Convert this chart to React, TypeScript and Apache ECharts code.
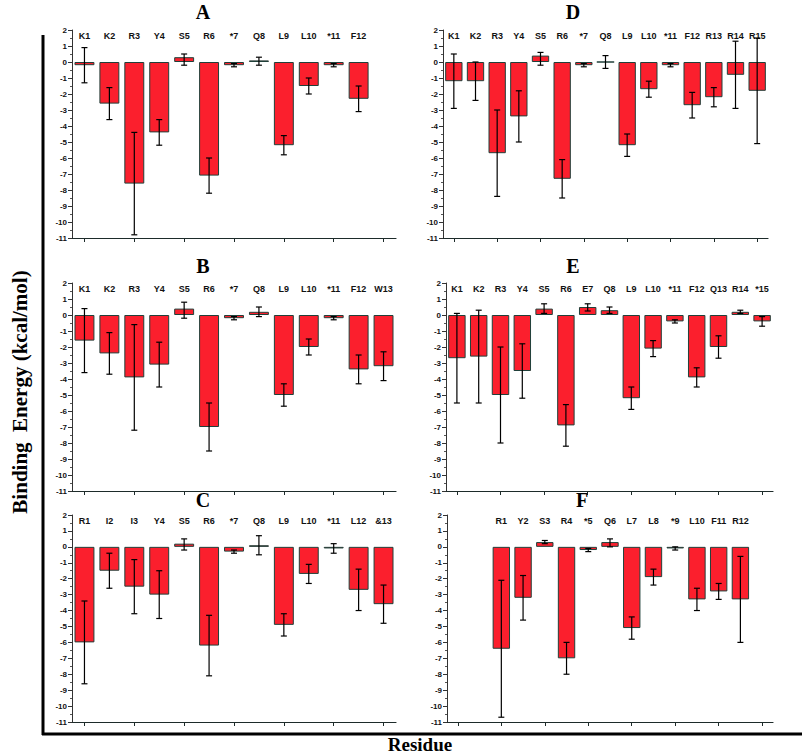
import React, { useEffect, useRef } from "react";
import * as echarts from "echarts";

// ---------- DATA ----------
const labelsA = ["K1", "K2", "R3", "Y4", "S5", "R6", "*7", "Q8", "L9", "L10", "*11", "F12", ""];
const valuesA = [-0.2, -2.6, -7.6, -4.4, 0.3, -7.1, -0.2, 0.1, -5.2, -1.5, -0.2, -2.3, null];
const lowA = [-1.3, -3.6, -10.8, -5.2, -0.2, -8.2, -0.3, -0.2, -5.8, -2.0, -0.3, -3.1, null];
const highA = [0.9, -1.6, -4.4, -3.6, 0.5, -6.0, -0.1, 0.3, -4.6, -1.0, -0.1, -1.5, null];

const labelsB = ["K1", "K2", "R3", "Y4", "S5", "R6", "*7", "Q8", "L9", "L10", "*11", "F12", "W13"];
const valuesB = [-1.6, -2.4, -3.9, -3.1, 0.4, -7.0, -0.2, 0.2, -5.0, -2.0, -0.2, -3.4, -3.2];
const lowB = [-3.6, -3.7, -7.2, -4.5, -0.2, -8.5, -0.3, -0.1, -5.7, -2.5, -0.3, -4.3, -4.1];
const highB = [0.4, -1.1, -0.6, -1.7, 0.8, -5.5, -0.1, 0.5, -4.3, -1.5, -0.1, -2.5, -2.3];

const labelsC = ["R1", "I2", "I3", "Y4", "S5", "R6", "*7", "Q8", "L9", "L10", "*11", "L12", "&13"];
const valuesC = [-6.0, -1.5, -2.5, -3.0, 0.2, -6.2, -0.3, 0.1, -4.9, -1.7, -0.1, -2.7, -3.6];
const lowC = [-8.6, -2.6, -4.2, -4.5, -0.2, -8.1, -0.4, -0.5, -5.6, -2.3, -0.4, -4.0, -4.8];
const highC = [-3.4, -0.4, -0.8, -1.5, 0.5, -4.3, -0.2, 0.7, -4.2, -1.1, 0.2, -1.4, -2.4];

const labelsD = ["K1", "K2", "R3", "Y4", "S5", "R6", "*7", "Q8", "L9", "L10", "*11", "F12", "R13", "R14", "R15"];
const valuesD = [-1.2, -1.2, -5.7, -3.4, 0.4, -7.3, -0.2, 0.0, -5.2, -1.7, -0.2, -2.7, -2.2, -0.8, -1.8];
const lowD = [-2.9, -2.4, -8.4, -5.0, -0.2, -8.5, -0.3, -0.4, -5.9, -2.2, -0.3, -3.5, -2.8, -2.9, -5.1];
const highD = [0.5, 0.0, -3.0, -1.8, 0.6, -6.1, -0.1, 0.4, -4.5, -1.2, -0.1, -1.9, -1.6, 1.3, 1.5];

const labelsE = ["K1", "K2", "R3", "Y4", "S5", "R6", "E7", "Q8", "L9", "L10", "*11", "F12", "Q13", "R14", "*15"];
const valuesE = [-2.7, -2.6, -5.0, -3.5, 0.4, -6.9, 0.5, 0.3, -5.2, -2.1, -0.4, -3.9, -2.0, 0.2, -0.4];
const lowE = [-5.5, -5.5, -8.0, -5.2, 0.1, -8.2, 0.25, 0.1, -5.9, -2.6, -0.5, -4.5, -2.7, 0.1, -0.7];
const highE = [0.1, 0.3, -2.0, -1.8, 0.7, -5.6, 0.7, 0.5, -4.5, -1.6, -0.3, -3.3, -1.3, 0.3, -0.1];

const labelsF = ["", "", "R1", "Y2", "S3", "R4", "*5", "Q6", "L7", "L8", "*9", "L10", "F11", "R12", ""];
const valuesF = [null, null, -6.4, -3.2, 0.3, -7.0, -0.2, 0.3, -5.1, -1.9, -0.1, -3.3, -2.8, -3.3, null];
const lowF = [null, null, -10.7, -4.6, 0.2, -8.0, -0.3, 0.0, -5.8, -2.4, -0.2, -4.0, -3.3, -6.0, null];
const highF = [null, null, -2.1, -1.8, 0.4, -6.0, -0.1, 0.5, -4.4, -1.4, 0.0, -2.6, -2.3, -0.6, null];

const yTicks = { min: -11, max: 2, interval: 1 };

// ---------- LAYOUT ----------
type Panel = {
  name: string;
  labels: string[];
  values: (number | null)[];
  low: (number | null)[];
  high: (number | null)[];
  left: number;
  top: number;
  width: number;
  height: number;
  titleX: number;
  titleY: number;
};

const panels: Panel[] = [
  { name: "A", labels: labelsA, values: valuesA, low: lowA, high: highA, left: 72, top: 30, width: 324, height: 208, titleX: 203, titleY: 2 },
  { name: "B", labels: labelsB, values: valuesB, low: lowB, high: highB, left: 72, top: 283, width: 324, height: 208, titleX: 203, titleY: 256 },
  { name: "C", labels: labelsC, values: valuesC, low: lowC, high: highC, left: 72, top: 515, width: 324, height: 207, titleX: 203, titleY: 490 },
  { name: "D", labels: labelsD, values: valuesD, low: lowD, high: highD, left: 443, top: 30, width: 325, height: 208, titleX: 573, titleY: 2 },
  { name: "E", labels: labelsE, values: valuesE, low: lowE, high: highE, left: 446, top: 283, width: 327, height: 208, titleX: 573, titleY: 256 },
  { name: "F", labels: labelsF, values: valuesF, low: lowF, high: highF, left: 447, top: 515, width: 326, height: 207, titleX: 582, titleY: 490 },
];

function buildOption() {
  const grid: any[] = [];
  const xAxis: any[] = [];
  const yAxis: any[] = [];
  const series: any[] = [];
  const title: any[] = [];

  panels.forEach((p, i) => {
    grid.push({ left: p.left, top: p.top, width: p.width, height: p.height, containLabel: false });
    title.push({
      text: p.name,
      left: p.titleX,
      top: p.titleY,
      textAlign: "center",
      padding: 0,
      textStyle: { fontFamily: "Liberation Serif", fontWeight: "bold", fontSize: 20, color: "#000" },
    });
    // labels axis at top
    xAxis.push({
      type: "category",
      gridIndex: i,
      data: p.labels,
      position: "top",
      axisLine: { show: false },
      axisTick: { show: false },
      axisLabel: {
        inside: true,
        margin: 1,
        interval: 0,
        fontFamily: "Liberation Sans",
        fontWeight: "bold",
        fontSize: 9,
        color: "#111",
      },
    });
    // zero-line axis
    xAxis.push({
      type: "category",
      gridIndex: i,
      data: p.labels,
      position: "bottom",
      axisLine: { show: true, onZero: true, lineStyle: { color: "#1d2b2a", width: 1.2 } },
      axisTick: { show: true, alignWithLabel: true, length: 4, lineStyle: { color: "#1d2b2a" } },
      axisLabel: { show: false },
    });
    yAxis.push({
      type: "value",
      gridIndex: i,
      min: yTicks.min,
      max: yTicks.max,
      interval: yTicks.interval,
      splitLine: { show: false },
      axisLine: { show: true, lineStyle: { color: "#333", width: 1 } },
      axisTick: { show: true, length: 4, lineStyle: { color: "#333" } },
      minorTick: { show: true, splitNumber: 2, length: 2, lineStyle: { color: "#555" } },
      axisLabel: {
        margin: 5,
        fontFamily: "Liberation Sans",
        fontWeight: "bold",
        fontSize: 8,
        color: "#111",
      },
    });
    series.push({
      type: "bar",
      xAxisIndex: i * 2,
      yAxisIndex: i,
      data: p.values,
      barCategoryGap: "20%",
      itemStyle: { color: "#fb1f2d", borderColor: "#20403a", borderWidth: 1 },
      z: 2,
    });
    const errData: any[] = [];
    p.values.forEach((v, k) => {
      if (v !== null && p.low[k] !== null && p.high[k] !== null) {
        errData.push([k, p.low[k], p.high[k]]);
      }
    });
    series.push({
      type: "custom",
      xAxisIndex: i * 2,
      yAxisIndex: i,
      data: errData,
      encode: { x: 0, y: [1, 2] },
      z: 5,
      renderItem: (params: any, api: any) => {
        const x = api.value(0);
        const pLo = api.coord([x, api.value(1)]);
        const pHi = api.coord([x, api.value(2)]);
        const hw = 3;
        const st = { stroke: "#000", lineWidth: 1.2 };
        return {
          type: "group",
          children: [
            { type: "line", shape: { x1: pLo[0], y1: pLo[1], x2: pHi[0], y2: pHi[1] }, style: st },
            { type: "line", shape: { x1: pLo[0] - hw, y1: pLo[1], x2: pLo[0] + hw, y2: pLo[1] }, style: st },
            { type: "line", shape: { x1: pHi[0] - hw, y1: pHi[1], x2: pHi[0] + hw, y2: pHi[1] }, style: st },
          ],
        };
      },
    });
  });

  const graphic: any[] = [
    // outer frame lines
    { type: "line", shape: { x1: 43, y1: 35, x2: 43, y2: 735 }, style: { stroke: "#000", lineWidth: 3 } },
    { type: "line", shape: { x1: 42, y1: 734, x2: 802, y2: 734 }, style: { stroke: "#000", lineWidth: 3 } },
    {
      type: "text",
      x: 20,
      y: 392,
      rotation: Math.PI / 2,
      style: {
        text: "Binding  Energy (kcal/mol)",
        fill: "#000",
        font: "bold 21px 'Liberation Serif'",
        align: "center",
        verticalAlign: "middle",
      },
    },
    {
      type: "text",
      x: 420,
      y: 744,
      style: {
        text: "Residue",
        fill: "#000",
        font: "bold 19px 'Liberation Serif'",
        align: "center",
        verticalAlign: "middle",
      },
    },
  ];

  return { animation: false, backgroundColor: "#fff", title, grid, xAxis, yAxis, series, graphic };
}

export default function App() {
  const ref = useRef<HTMLDivElement>(null);
  useEffect(() => {
    if (!ref.current) return;
    const chart = echarts.init(ref.current, undefined, { renderer: "svg" });
    chart.setOption(buildOption() as any);
    return () => chart.dispose();
  }, []);
  return <div ref={ref} style={{ position: "absolute", left: 0, top: 0, width: 802, height: 754 }} />;
}
